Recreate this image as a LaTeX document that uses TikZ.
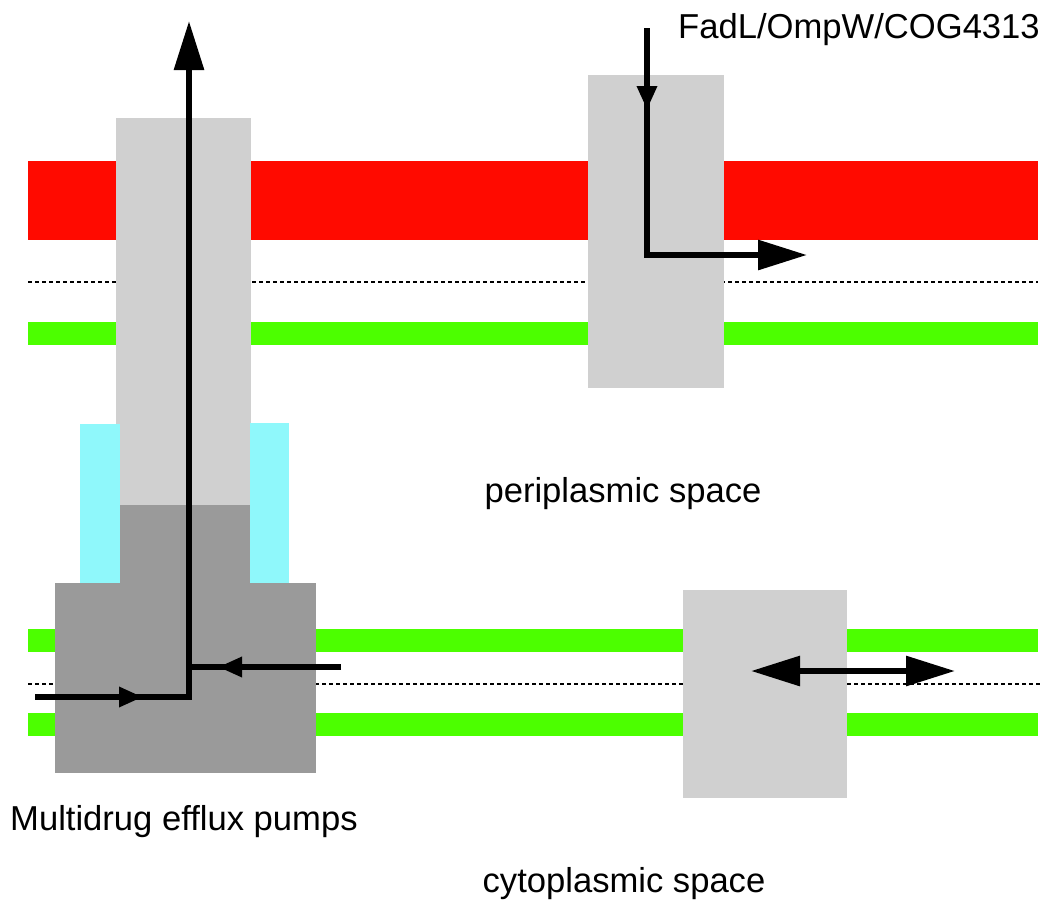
\documentclass[tikz,border=0pt]{standalone}
\usepackage{fontspec}
\setmainfont{Liberation Sans}
\usetikzlibrary{arrows.meta,decorations.markings}

\definecolor{outerred}{RGB}{255,10,0}
\definecolor{innergreen}{RGB}{76,255,0}
\definecolor{poregray}{RGB}{208,208,208}
\definecolor{pumpgray}{RGB}{154,154,154}
\definecolor{linkcyan}{RGB}{143,248,251}

\begin{document}
\begin{tikzpicture}[
    x=1pt, y=-1pt,
    outerm/.style={fill=outerred},
    innerm/.style={fill=innergreen},
    midline/.style={dash pattern=on 4pt off 3pt, line width=1.5pt},
    pore/.style={fill=poregray},
    pump/.style={fill=pumpgray},
    linker/.style={fill=linkcyan},
    flow/.style={line width=6pt, line join=miter},
    bigtip/.style={-{Triangle[length=49pt,width=29pt]}},
    midtip/.style={postaction={decorate},
      decoration={markings,mark=at position #1 with {\arrow{Triangle[length=24pt,width=19pt]}}}},
    lbl/.style={font=\fontsize{34.6}{40}\selectfont, inner sep=0pt}
  ]
  \useasboundingbox (0,0) rectangle (1050,908);

  % Membranes
  \fill[outerm] (28,161) rectangle (1038,240);
  \draw[midline] (28,282) -- (1038,282);
  \fill[innerm] (28,322) rectangle (1038,345);
  \fill[innerm] (28,629) rectangle (1038,652);
  \draw[midline] (28,684) -- (1040,684);
  \fill[innerm] (28,713) rectangle (1038,736);

  % Outer membrane channel and inner membrane transporter
  \fill[pore] (588,75) rectangle (724,388);
  \fill[pore] (683,590) rectangle (847,798);

  % Efflux pump
  \fill[pore] (116,118) rectangle (251,655);
  \fill[pump] (120,505) rectangle (250,655);
  \fill[linker] (80,424) rectangle (120,584);
  \fill[linker] (250,423) rectangle (289,584);
  \fill[pump] (55,583) rectangle (316,773);

  % Flow points
  \coordinate (pumpIn) at (35,697);
  \coordinate (pumpBend) at (189,697);
  \coordinate (pumpOut) at (189,21);
  \coordinate (pumpSide) at (341,667);
  \coordinate (pumpJoin) at (189,667);
  \coordinate (fadIn) at (647,28);
  \coordinate (fadBend) at (647,255);
  \coordinate (fadOut) at (807,255);
  \coordinate (cytL) at (751,671);
  \coordinate (cytR) at (955,671);

  % Flows
  \draw[flow,bigtip,midtip=108pt] (pumpIn) -- (pumpBend) -- (pumpOut);
  \draw[flow,midtip=123pt] (pumpSide) -- (pumpJoin);
  \draw[flow,bigtip,midtip=82pt] (fadIn) -- (fadBend) -- (fadOut);
  \draw[flow,{Triangle[length=49pt,width=29pt]}-{Triangle[length=49pt,width=29pt]}] (cytL) -- (cytR);

  % Labels
  \node[lbl,anchor=west] (fadLabel) at (678,30) {FadL/OmpW/COG4313};
  \node[lbl] (periLabel) at (623,494) {periplasmic space};
  \node[lbl,anchor=west] (pumpLabel) at (10,822) {Multidrug efflux pumps};
  \node[lbl] (cytoLabel) at (624,884) {cytoplasmic space};

\end{tikzpicture}
\end{document}
